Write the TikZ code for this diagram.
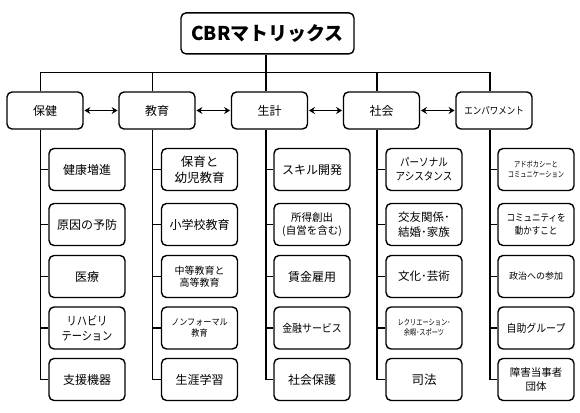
\documentclass[tikz,border=0pt]{standalone}
\usepackage{fontspec}
\setmainfont{Noto Sans CJK JP}
\newfontfamily\narA[FakeStretch=0.78]{Noto Sans CJK JP}
\newfontfamily\narB[FakeStretch=0.85]{Noto Sans CJK JP}
\newfontfamily\narC[FakeStretch=0.9]{Noto Sans CJK JP}
\usetikzlibrary{arrows.meta}
\newcommand\fsz[1]{\fontsize{#1pt}{1.25\dimexpr#1pt\relax}\selectfont}
\begin{document}
\begin{tikzpicture}[x=1pt,y=-1pt,
  frame/.style={draw=black, line width=1.4pt, rounded corners=5pt, inner sep=0pt, align=center},
  titlebox/.style={frame, minimum width=173pt, minimum height=41pt, font=\bfseries\fsz{19}},
  topbox/.style={frame, minimum width=76pt, minimum height=37pt, font=\fsz{12}},
  kid/.style={frame, minimum width=76pt, minimum height=42pt, font=\fsz{12}},
  link/.style={line width=1.4pt},
  dbl/.style={line width=1.4pt, shorten <=0.7pt, shorten >=0.7pt,
    {Stealth[length=6pt,width=7pt,inset=2pt]}-{Stealth[length=6pt,width=7pt,inset=2pt]}}
]
\useasboundingbox (0,0) rectangle (580,412);

% title
\node[titlebox] (title) at (267.5,33.4) {CBRマトリックス};

% top row
\node[topbox] (t1) at (45,110.5) {保健};
\node[topbox] (t2) at (157,110.5) {教育};
\node[topbox] (t3) at (269.5,110.5) {生計};
\node[topbox] (t4) at (381.5,110.5) {社会};
\node[topbox,font=\narB\fsz{10}] (t5) at (494,110.5) {エンパワメント};

% spine x positions and bar
\coordinate (s1) at (40.7,0);
\coordinate (s2) at (152.5,0);
\coordinate (s3) at (266,0);
\coordinate (s4) at (377,0);
\coordinate (s5) at (490,0);
\coordinate (bar) at (0,72.7);

% column 1
\node[kid] (c11) at (87,169.5) {健康増進};
\node[kid] (c12) at (87,224.5) {原因の予防};
\node[kid] (c13) at (87,276.5) {医療};
\node[kid,font=\narB\fsz{12}] (c14) at (87,328) {リハビリ\\テーション};
\node[kid] (c15) at (87,379.5) {支援機器};
% column 2
\node[kid,font=\fsz{12.5}] (c21) at (199.5,169.5) {保育と\\幼児教育};
\node[kid] (c22) at (199.5,224.5) {小学校教育};
\node[kid,font=\fsz{10}] (c23) at (199.5,276.5) {中等教育と\\高等教育};
\node[kid,font=\narC\fsz{9}] (c24) at (199.5,328) {ノンフォーマル\\教育};
\node[kid] (c25) at (199.5,379.5) {生涯学習};
% column 3
\node[kid] (c31) at (312,169.5) {スキル開発};
\node[kid,font=\fsz{10.5}] (c32) at (312,224.5) {所得創出\\(自営を含む)};
\node[kid] (c33) at (312,276.5) {賃金雇用};
\node[kid,font=\narC\fsz{11}] (c34) at (312,328) {金融サービス};
\node[kid] (c35) at (312,379.5) {社会保護};
% column 4
\node[kid,font=\narB\fsz{11.2}] (c41) at (424,169.5) {パーソナル\\アシスタンス};
\node[kid,font=\fsz{11.5}] (c42) at (424,224.5) {交友関係･\\結婚･家族};
\node[kid,font=\fsz{11.5}] (c43) at (424,276.5) {文化･芸術};
\node[kid,font=\narA\fsz{8}] (c44) at (424,328) {レクリエーション･\\余暇･スポーツ};
\node[kid,font=\fsz{12.5}] (c45) at (424,379.5) {司法};
% column 5
\node[kid,font=\narA\fsz{8}] (c51) at (536,169.5) {アドボカシーと\\コミュニケーション};
\node[kid,font=\narB\fsz{10}] (c52) at (536,224.5) {コミュニティを\\動かすこと};
\node[kid,font=\fsz{9}] (c53) at (536,276.5) {政治への参加};
\node[kid,font=\narC\fsz{11}] (c54) at (536,328) {自助グループ};
\node[kid,font=\fsz{10.5}] (c55) at (536,379.5) {障害当事者\\団体};

% title to bar and bar to top boxes
\draw[link] (title.south -| s3) -- (t3.north -| s3);
\draw[link] (t1.north -| s1) -- (bar -| s1) -- (bar -| s5) -- (t5.north -| s5);
\draw[link] (bar -| s2) -- (t2.north -| s2);
\draw[link] (bar -| s4) -- (t4.north -| s4);

% arrows between top boxes
\draw[dbl] (t1) -- (t2);
\draw[dbl] (t2) -- (t3);
\draw[dbl] (t3) -- (t4);
\draw[dbl] (t4) -- (t5);

% spines
\foreach \c in {1,...,5}{
  \draw[link] (t\c.south -| s\c) |- (c\c5.west);
  \foreach \r in {1,...,4}{
    \draw[link] (c\c\r.west -| s\c) -- (c\c\r.west);
  }
}
\end{tikzpicture}
\end{document}
